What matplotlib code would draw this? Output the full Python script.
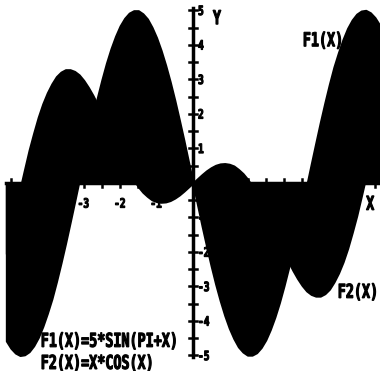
import matplotlib
matplotlib.use("AGG")
import matplotlib.pyplot as plt
from matplotlib.textpath import TextPath
from matplotlib.font_manager import FontProperties
from matplotlib.patches import PathPatch
from matplotlib.transforms import Affine2D
import numpy as np

# sample grid: -5.125 .. 5.125 in steps of 0.125 (values below)
xs = np.arange(-41, 42) * 0.125
f1 = [-4.58, -4.79, -4.93, -5.00, -4.98, -4.89, -4.72, -4.48, -4.16, -3.78, -3.36,
      -2.86, -2.32, -1.75, -1.15, -0.54, 0.08, 0.71, 1.32, 1.91, 2.47, 2.99, 3.47,
      3.89, 4.25, 4.55, 4.77, 4.92, 4.99, 4.99, 4.90, 4.75, 4.51, 4.21, 3.84, 3.41,
      2.93, 2.40, 1.83, 1.24, 0.62,
      0.0,
      -0.62, -1.24, -1.83, -2.40, -2.93, -3.41, -3.84, -4.21, -4.51, -4.75, -4.90,
      -4.99, -4.99, -4.92, -4.77, -4.55, -4.25, -3.89, -3.47, -2.99, -2.47, -1.91,
      -1.32, -0.71, -0.08, 0.54, 1.15, 1.75, 2.32, 2.86, 3.36, 3.78, 4.16, 4.48,
      4.72, 4.89, 4.98, 5.00, 4.93, 4.79, 4.58]
f2 = [-2.05, -1.42, -0.80, -0.18, 0.39, 0.95, 1.44, 1.90, 2.29, 2.61, 2.87,
      3.08, 3.21, 3.28, 3.28, 3.23, 3.13, 2.97, 2.77, 2.54, 2.28, 2.00, 1.71,
      1.41, 1.12, 0.83, 0.56, 0.31, 0.09, -0.11, -0.27, -0.39, -0.49, -0.54, -0.56,
      -0.55, -0.51, -0.44, -0.35, -0.24, -0.12,
      0.0,
      0.12, 0.24, 0.35, 0.44, 0.51, 0.55, 0.56, 0.54, 0.49, 0.39, 0.27,
      0.11, -0.09, -0.31, -0.56, -0.83, -1.12, -1.41, -1.71, -2.00, -2.28, -2.54,
      -2.77, -2.97, -3.13, -3.23, -3.28, -3.28, -3.21, -3.08, -2.87, -2.61, -2.29,
      -1.90, -1.44, -0.95, -0.39, 0.18, 0.80, 1.42, 2.05]
y_labels = [5, 4, 3, 2, 1, -1, -2, -3, -4, -5]
x_labels = [-4, -3, -2, -1, 1, 2, 3, 4]

fig = plt.figure(figsize=(3.8, 3.71), dpi=100)
ax = fig.add_axes([0, 0, 1, 1])
ax.set_xlim(-5.30, 5.14)
ax.set_ylim(-5.45, 5.30)
ax.axis("off")

prop = FontProperties(family="DejaVu Sans Mono", weight="bold")


def label(x, y, s, size=13.4, sy=1.43, ha="left", va="baseline", z=5):
    # tall narrow bold text, drawn as a path so it can be stretched vertically
    tp = TextPath((0, 0), s, size=size, prop=prop)
    bb = tp.get_extents()
    px, py = ax.transData.transform((x, y))
    if ha == "center":
        px -= bb.x0 + bb.width / 2
    if va == "center":
        py -= 0.729 * size * sy / 2
    tr = Affine2D().scale(1, sy).translate(px, py)
    ax.add_patch(PathPatch(tp, transform=tr, fc="black", ec="black", lw=0.8, zorder=z))


# each curve filled down to the x axis
ax.fill_between(xs, f1, 0, color="black", lw=1.5, zorder=3)
ax.fill_between(xs, f2, 0, color="black", lw=1.5, zorder=3)

# axes with small crosses every half unit
ax.plot([0, 0], [-5.05, 5.07], color="black", lw=2.5, zorder=4)
ax.plot([-5.125, 5.125], [0, 0], color="black", lw=2.5, zorder=4)
for t in np.arange(-5, 5.01, 0.5):
    ax.plot([-0.11, 0.11], [t, t], color="black", lw=1.8, zorder=4)
    ax.plot([t, t], [-0.11, 0.11], color="black", lw=1.8, zorder=4)

for v in y_labels:
    label(0.14, v, str(v), size=9.5, sy=1.35, va="center", z=2)
for v in x_labels:
    label(v, -0.58, str(v), size=9.5, sy=1.35, ha="center", va="center", z=2)

label(0.55, 4.6, "Y")
label(4.76, -0.78, "X")
label(3.02, 3.96, "F1(X)")
label(3.98, -3.33, "F2(X)")
label(-4.18, -4.75, "F1(X)=5*SIN(PI+X)")
label(-4.18, -5.39, "F2(X)=X*COS(X)")

plt.savefig("out.png", dpi=100, facecolor="white")
